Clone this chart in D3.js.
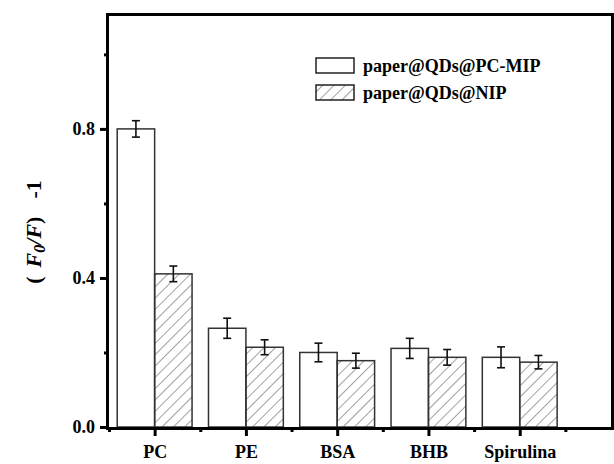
<!DOCTYPE html>
<html>
<head>
<meta charset="utf-8">
<script src="https://cdn.jsdelivr.net/npm/d3@7"></script>
<style>
body { margin: 0; background: #fff; }
</style>
</head>
<body>
<svg width="614" height="464"></svg>
<script>
var categories = ["PC", "PE", "BSA", "BHB", "Spirulina"];
var seriesNames = ["paper@QDs@PC-MIP", "paper@QDs@NIP"];
var mipValues = [0.800, 0.265, 0.200, 0.211, 0.187];
var mipErrors = [0.022, 0.027, 0.025, 0.027, 0.028];
var nipValues = [0.411, 0.214, 0.178, 0.187, 0.174];
var nipErrors = [0.021, 0.020, 0.020, 0.021, 0.018];
var yTicks = [0.0, 0.4, 0.8];
var yMinorTicks = [0.2, 0.6, 1.0];

var serif = "Liberation Serif";

var svg = d3.select("svg"),
  plotLeft = 109, plotRight = 611, plotTop = 16, plotBottom = 427;

var x = d3.scaleLinear().domain([0.5, 6]).range([plotLeft, plotRight]);
var y = d3.scaleLinear().domain([0, 1.103]).range([plotBottom, plotTop]);
var barW = x(1.41) - x(1);

var defs = svg.append("defs");
var pat = defs.append("pattern")
  .attr("id", "hatch")
  .attr("patternUnits", "userSpaceOnUse")
  .attr("width", 8).attr("height", 8)
  .attr("patternTransform", "rotate(45)");
pat.append("line")
  .attr("x1", 0).attr("y1", 0).attr("x2", 0).attr("y2", 8)
  .attr("stroke", "#444").attr("stroke-width", 1);

var series = [
  {name: seriesNames[0], values: mipValues, errors: mipErrors, offset: -barW, fill: "#fff"},
  {name: seriesNames[1], values: nipValues, errors: nipErrors, offset: 0, fill: "url(#hatch)"}
];

// bars
series.forEach(function(s) {
  var g = svg.append("g");
  g.selectAll("rect")
    .data(s.values)
    .enter().append("rect")
    .attr("x", function(d, i) { return x(i + 1) + s.offset; })
    .attr("y", function(d) { return y(d); })
    .attr("width", barW)
    .attr("height", function(d) { return plotBottom - y(d); })
    .attr("fill", s.fill)
    .attr("stroke", "#333")
    .attr("stroke-width", 1.5);

  // error bars
  var eb = g.selectAll("g.err")
    .data(s.values)
    .enter().append("g")
    .attr("class", "err")
    .attr("stroke", "#111")
    .attr("stroke-width", 1.6);
  eb.append("line")
    .attr("x1", function(d, i) { return x(i + 1) + s.offset + barW / 2; })
    .attr("x2", function(d, i) { return x(i + 1) + s.offset + barW / 2; })
    .attr("y1", function(d, i) { return y(d + s.errors[i]); })
    .attr("y2", function(d, i) { return y(d - s.errors[i]); });
  [1, -1].forEach(function(sign) {
    eb.append("line")
      .attr("x1", function(d, i) { return x(i + 1) + s.offset + barW / 2 - 4; })
      .attr("x2", function(d, i) { return x(i + 1) + s.offset + barW / 2 + 4; })
      .attr("y1", function(d, i) { return y(d + sign * s.errors[i]); })
      .attr("y2", function(d, i) { return y(d + sign * s.errors[i]); });
  });
});

// frame
svg.append("rect")
  .attr("x", plotLeft - 1.5).attr("y", plotTop - 1.5)
  .attr("width", plotRight - plotLeft + 3).attr("height", plotBottom - plotTop + 3)
  .attr("fill", "none")
  .attr("stroke", "#000")
  .attr("stroke-width", 3);

// y axis
var yAxis = svg.append("g")
  .attr("transform", "translate(" + plotLeft + ",0)")
  .call(d3.axisLeft(y).tickValues(yTicks).tickSize(9).tickPadding(5).tickFormat(d3.format(".1f")));
yAxis.select(".domain").remove();
yAxis.selectAll(".tick line").attr("stroke", "#000").attr("stroke-width", 3);
yAxis.selectAll("text").style("font-size", "18px").style("font-family", serif)
  .style("font-weight", "bold").attr("fill", "#000");

var yMinor = svg.append("g")
  .attr("transform", "translate(" + plotLeft + ",0)")
  .call(d3.axisLeft(y).tickValues(yMinorTicks).tickSize(5).tickFormat(""));
yMinor.select(".domain").remove();
yMinor.selectAll(".tick line").attr("stroke", "#000").attr("stroke-width", 3);

// x axis
var xAxis = svg.append("g")
  .attr("transform", "translate(0," + plotBottom + ")")
  .call(d3.axisBottom(x).tickValues([1, 2, 3, 4, 5]).tickSize(9).tickPadding(9)
    .tickFormat(function(d) { return categories[d - 1]; }));
xAxis.select(".domain").remove();
xAxis.selectAll(".tick line").attr("stroke", "#000").attr("stroke-width", 3);
xAxis.selectAll("text").style("font-size", "18px").style("font-family", serif)
  .style("font-weight", "bold").attr("fill", "#000");

var xMinor = svg.append("g")
  .attr("transform", "translate(0," + plotBottom + ")")
  .call(d3.axisBottom(x).tickValues([0.5, 1.5, 2.5, 3.5, 4.5, 5.5]).tickSize(5).tickFormat(""));
xMinor.select(".domain").remove();
xMinor.selectAll(".tick line").attr("stroke", "#000").attr("stroke-width", 3);

// y label
var yl = svg.append("text")
  .attr("transform", "translate(41,232) rotate(-90)")
  .attr("text-anchor", "middle")
  .style("font-family", serif)
  .style("font-weight", "bold")
  .style("font-size", "22px");
yl.append("tspan").text("(");
yl.append("tspan").attr("dx", 9).style("font-style", "italic").text("F");
yl.append("tspan").style("font-style", "italic").style("font-size", "16px").attr("dy", 4).text("0");
yl.append("tspan").style("font-style", "italic").attr("dy", -4).text("/F");
yl.append("tspan").text(")");
yl.append("tspan").attr("dx", 18).text("-1");

// legend
var legend = svg.append("g");
series.forEach(function(s, i) {
  var ly = 58 + i * 27;
  legend.append("rect")
    .attr("x", 316).attr("y", ly)
    .attr("width", 38).attr("height", 15)
    .attr("fill", s.fill)
    .attr("stroke", "#222").attr("stroke-width", 1.5);
  legend.append("text")
    .attr("x", 363).attr("y", ly + 14)
    .style("font-family", serif)
    .style("font-weight", "bold")
    .style("font-size", "18px")
    .text(s.name);
});
</script>
</body>
</html>
